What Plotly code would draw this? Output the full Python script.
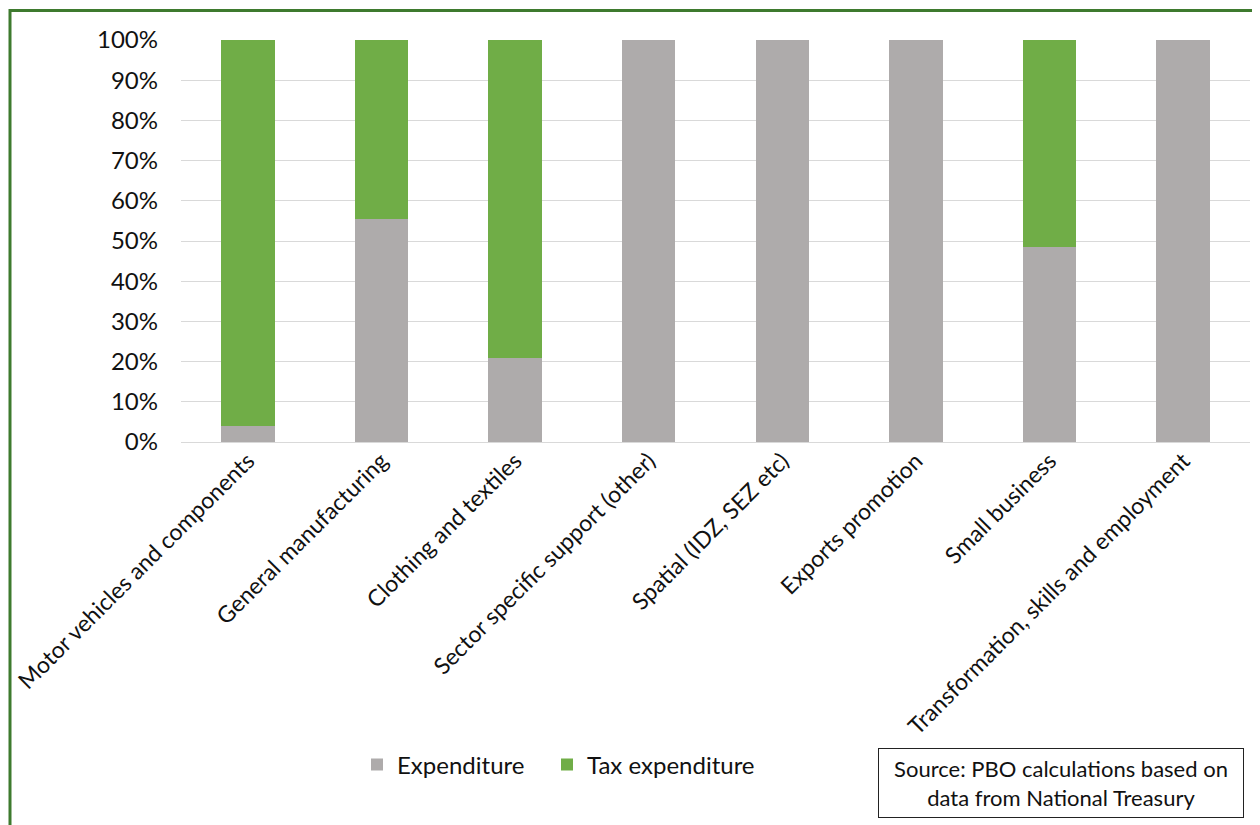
import plotly.graph_objects as go

categories = [
    "Motor vehicles and components",
    "General manufacturing",
    "Clothing and textiles",
    "Sector specific support (other)",
    "Spatial (IDZ, SEZ etc)",
    "Exports promotion",
    "Small business",
    "Transformation, skills and employment",
]
expenditure = [4, 55.5, 21, 100, 100, 100, 48.5, 100]
tax_expenditure = [96, 44.5, 79, 0, 0, 0, 51.5, 0]
y_ticks = [0, 10, 20, 30, 40, 50, 60, 70, 80, 90, 100]
y_tick_labels = ["0%", "10%", "20%", "30%", "40%", "50%", "60%", "70%", "80%", "90%", "100%"]

FONT = "Lato, 'Open Sans', sans-serif"

fig = go.Figure()
fig.add_trace(go.Bar(x=categories, y=expenditure, name="Expenditure", legend="legend",
                     marker=dict(color="#AEABAB", line=dict(width=0))))
fig.add_trace(go.Bar(x=categories, y=tax_expenditure, name="Tax expenditure", legend="legend2",
                     marker=dict(color="#70AD47", line=dict(width=0))))

# page body has an 8px margin; figure coords = page coords - 8
W, H = 1252, 817
L, R, T, B = 173, 10, 32, 383
pw, ph = W - L - R, H - T - B

def px(x):
    return (x - L) / pw

def py(y):
    return (H - B - y) / ph

legend_common = dict(orientation="h", y=py(757), xanchor="left", yanchor="middle",
                     font=dict(size=24, family=FONT), itemwidth=30,
                     bgcolor="rgba(0,0,0,0)")

fig.update_layout(
    width=W, height=H,
    barmode="stack", bargap=0.6,
    plot_bgcolor="white", paper_bgcolor="white",
    margin=dict(l=L, r=R, t=T, b=B, autoexpand=False),
    font=dict(family=FONT, color="#111111"),
    showlegend=True,
    legend=dict(x=px(349), **legend_common),
    legend2=dict(x=px(539), **legend_common),
    xaxis=dict(tickangle=-45, tickfont=dict(size=23, family=FONT), showgrid=False,
               showline=False, ticks=""),
    yaxis=dict(range=[0, 100], tickvals=y_ticks, ticktext=y_tick_labels,
               tickfont=dict(size=24, family=FONT), showgrid=True, gridcolor="#D9D9D9",
               gridwidth=1, zeroline=True, zerolinecolor="#D9D9D9", zerolinewidth=1,
               ticklabelstandoff=22, showline=False),
    annotations=[
        dict(xref="paper", yref="paper", x=px(1053), y=py(775), xanchor="center", yanchor="middle",
             text="Source: PBO calculations based on<br>data from National Treasury",
             showarrow=False, font=dict(size=22, family=FONT, color="#111111"),
             bordercolor="#222222", borderwidth=1, borderpad=6, width=352, align="center"),
    ],
    shapes=[
        dict(type="rect", xref="paper", yref="paper", x0=px(2), x1=px(1246), y0=py(830), y1=py(2.5),
             line=dict(color="#3E7A2E", width=3), layer="above"),
    ],
)

fig.write_html("out.html")
